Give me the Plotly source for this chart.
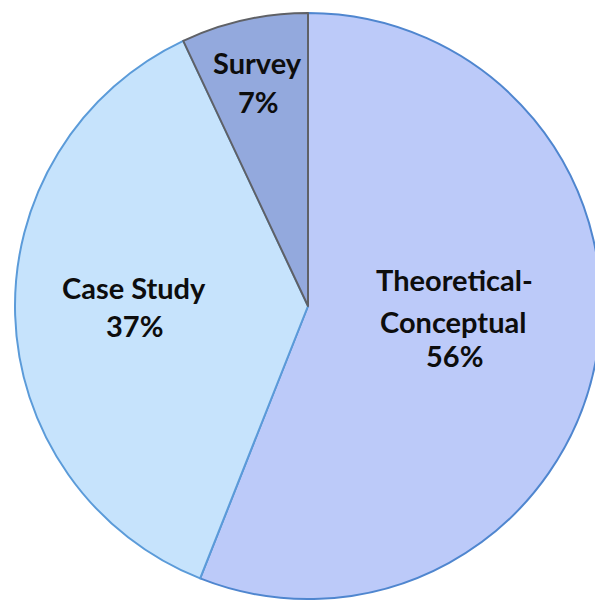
import plotly.graph_objects as go

labels = ["Theoretical-Conceptual", "Case Study", "Survey"]
values = [56, 37, 7]
label_lines = [["Theoretical-", "Conceptual", "56%"], ["Case Study", "37%"], ["Survey", "7%"]]
line_xy = [[(454, 279), (453, 321), (454, 356)],
           [(134, 287), (134, 325)],
           [(257, 63), (258, 101)]]
colors = ["#bccaf9", "#c6e3fc", "#93a9dd"]
line_colors = ["#4f86cf", "#5b9bd9", "#5f6166"]

W, H = 603, 604
OFF = 8  # page body margin


def px(x):
    return (x - OFF) / W


def py(y):
    return 1 - (y - OFF) / H


fig = go.Figure(go.Pie(
    labels=labels, values=values, sort=False, direction="clockwise", rotation=0,
    marker=dict(colors=colors, line=dict(color=line_colors, width=2)),
    textinfo="none", hoverinfo="label+percent", showlegend=False,
    domain=dict(x=[px(15), px(601)], y=[py(601), py(11)]),
))

for lines, xys in zip(label_lines, line_xy):
    for t, (x, y) in zip(lines, xys):
        fig.add_annotation(
            x=px(x), y=py(y), xref="paper", yref="paper",
            xanchor="center", yanchor="middle",
            text=f"<b>{t}</b>", showarrow=False,
            font=dict(family="Lato, Open Sans, sans-serif", size=29, color="#0d0d0d"),
        )

fig.update_layout(width=W, height=H, margin=dict(l=0, r=0, t=0, b=0),
                  paper_bgcolor="white", plot_bgcolor="white")
fig.write_html("out.html")
